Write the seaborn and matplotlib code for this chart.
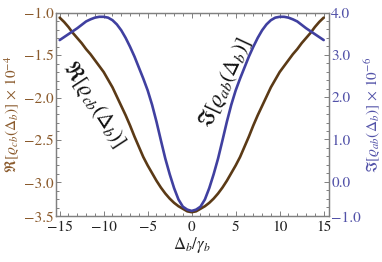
import numpy as np
import pandas as pd
import seaborn as sns
from matplotlib import pyplot as plt
from matplotlib.ticker import MultipleLocator, FixedLocator

# detuning values
delta = [-15, -14.5, -14, -13.5, -13, -12.5, -12, -11.5, -11, -10.5, -10, -9.5, -9, -8.5,
         -8, -7.5, -7, -6.5, -6, -5.5, -5, -4.5, -4, -3.5, -3, -2.5, -2, -1.5, -1, -0.5,
         0, 0.5, 1, 1.5, 2, 2.5, 3, 3.5, 4, 4.5, 5, 5.5, 6, 6.5, 7, 7.5, 8, 8.5,
         9, 9.5, 10, 10.5, 11, 11.5, 12, 12.5, 13, 13.5, 14, 14.5, 15]

# Re[rho_cb] x 1e-4 (brown, left axis)
re_cb = [-1.06, -1.11, -1.17, -1.24, -1.30, -1.36, -1.43, -1.49, -1.56, -1.63, -1.70, -1.79,
         -1.88, -1.99, -2.10, -2.21, -2.33, -2.46, -2.58, -2.70, -2.80, -2.89, -2.98, -3.06,
         -3.13, -3.19, -3.24, -3.28, -3.31, -3.34,
         -3.35,
         -3.34, -3.31, -3.28, -3.24, -3.19, -3.13, -3.06, -2.98, -2.89, -2.80, -2.70, -2.58,
         -2.46, -2.33, -2.21, -2.10, -1.99, -1.88, -1.79, -1.70, -1.63, -1.56, -1.49, -1.43,
         -1.36, -1.30, -1.24, -1.17, -1.11, -1.06]

# Im[rho_ab] x 1e-6 (blue, right axis)
im_ab = [3.35, 3.42, 3.49, 3.56, 3.63, 3.71, 3.79, 3.84, 3.88, 3.90, 3.90, 3.88, 3.82, 3.72,
         3.58, 3.40, 3.19, 2.96, 2.70, 2.44, 2.16, 1.82, 1.42, 0.98, 0.55, 0.18, -0.15, -0.42,
         -0.59, -0.66,
         -0.69,
         -0.66, -0.59, -0.42, -0.15, 0.18, 0.55, 0.98, 1.42, 1.82, 2.16, 2.44, 2.70, 2.96,
         3.19, 3.40, 3.58, 3.72, 3.82, 3.88, 3.90, 3.90, 3.88, 3.84, 3.79, 3.71, 3.63, 3.56,
         3.49, 3.42, 3.35]

df = pd.DataFrame({"delta": delta, "re": re_cb, "im": im_ab})

brown = "#5b3a16"
brown_txt = "#8a5a2c"
blue = "#4040a0"
blue_txt = "#5252a8"
frame = "#808080"

sns.set_theme(style="ticks")
plt.rcParams["font.family"] = "serif"
plt.rcParams["font.serif"] = ["STIXGeneral", "Liberation Serif", "DejaVu Serif"]
plt.rcParams["mathtext.fontset"] = "stix"

fig = plt.figure(figsize=(3.82, 2.62), dpi=100)
ax = fig.add_axes([0.147, 0.174, 0.713, 0.778])
ax2 = ax.twinx()

sns.lineplot(data=df, x="delta", y="re", ax=ax, color=brown, linewidth=1.9)
sns.lineplot(data=df, x="delta", y="im", ax=ax2, color=blue, linewidth=1.9)

ax.set_xlim(-15.4, 15.55)
ax.set_ylim(-3.40, -1.0)
ax2.set_ylim(-0.82, 4.0)

# x ticks
ax.xaxis.set_major_locator(FixedLocator([-15, -10, -5, 0, 5, 10, 15]))
ax.xaxis.set_minor_locator(MultipleLocator(1))
ax.set_xticklabels(["\u221215", "\u221210", "\u22125", "0", "5", "10", "15"])

# left y ticks
ax.yaxis.set_major_locator(FixedLocator([-1.0, -1.5, -2.0, -2.5, -3.0, -3.40]))
ax.yaxis.set_minor_locator(MultipleLocator(0.1))
ax.set_yticklabels(["\u22121.0", "\u22121.5", "\u22122.0", "\u22122.5", "\u22123.0", "\u22123.5"])

# right y ticks
ax2.yaxis.set_major_locator(FixedLocator([4.0, 3.0, 2.0, 1.0, 0.0, -0.82]))
ax2.yaxis.set_minor_locator(MultipleLocator(0.2))
ax2.set_yticklabels(["4.0", "3.0", "2.0", "1.0", "0.0", "\u22121.0"])

for a in (ax, ax2):
    for s in a.spines.values():
        s.set_color(frame)
        s.set_linewidth(0.9)
    a.tick_params(which="both", direction="in", color=frame, width=0.7)
    a.tick_params(which="major", length=3.5)
    a.tick_params(which="minor", length=2)

ax.tick_params(axis="x", which="both", top=True, labelsize=11, pad=3, labelcolor="#222222")
ax.tick_params(axis="y", which="both", labelsize=11, pad=2, labelcolor=brown_txt)
ax2.tick_params(axis="y", which="both", labelsize=11, pad=2, labelcolor=blue_txt)

ax.set_xlabel(r"$\Delta_b/\gamma_b$", fontsize=12, color="#222222", labelpad=1)
ax.set_ylabel(r"$\Re[\varrho_{cb}(\Delta_b)]\,\times\,10^{-4}$", fontsize=11,
              color=brown_txt, labelpad=1)
ax2.set_ylabel(r"$\Im[\varrho_{ab}(\Delta_b)]\,\times\,10^{-6}$", fontsize=11,
               color=blue_txt, labelpad=1, rotation=90)

ax.text(-11.1, -2.08, r"$\Re[\varrho_{cb}(\Delta_b)]$", fontsize=15.5, rotation=-57,
        ha="center", va="center", color="#111111", rotation_mode="anchor")
ax.text(3.8, -1.83, r"$\Im[\varrho_{ab}(\Delta_b)]$", fontsize=15.5, rotation=65,
        ha="center", va="center", color="#111111", rotation_mode="anchor")

ax.grid(False)
ax2.grid(False)

fig.savefig("out.png", dpi=100)
